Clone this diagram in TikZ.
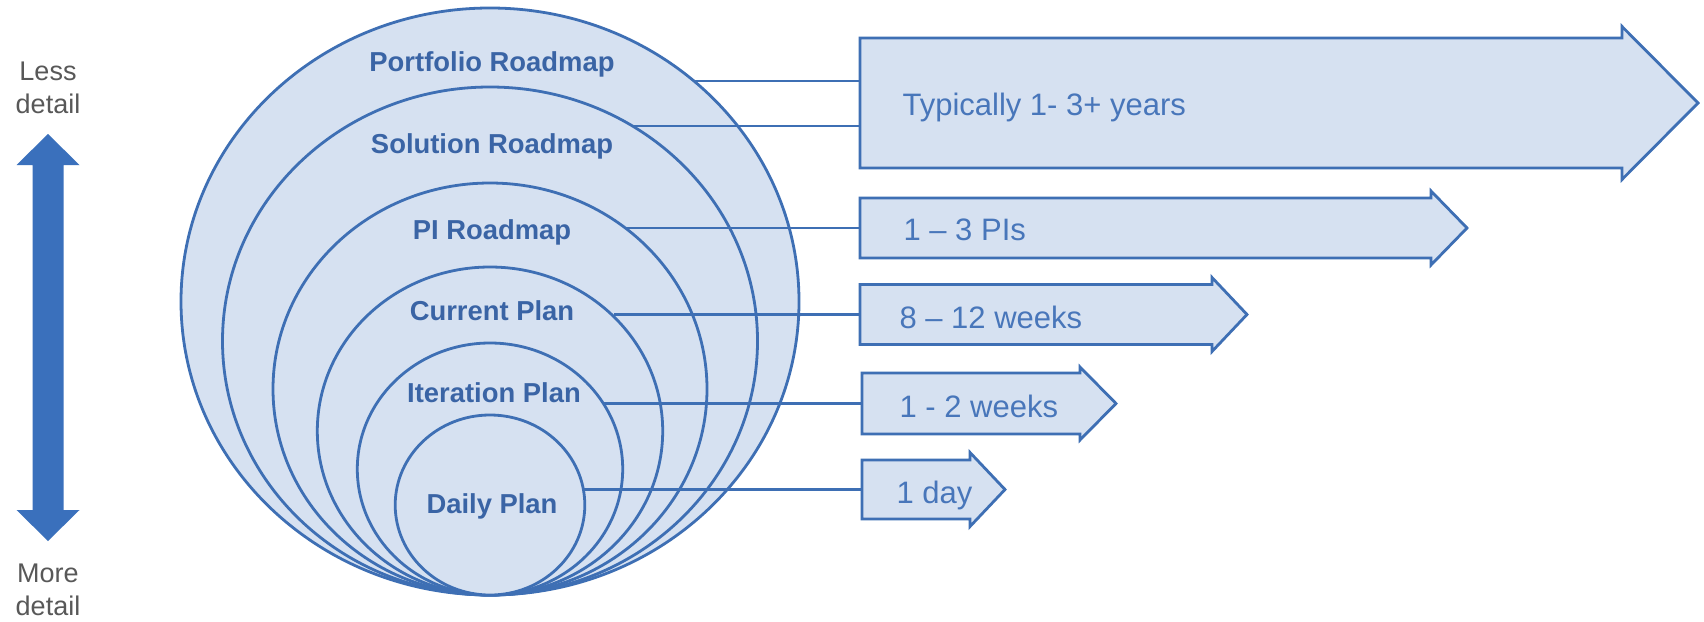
\documentclass[tikz,border=0pt]{standalone}
\usepackage{fontspec}
\setmainfont{Liberation Sans}
\usetikzlibrary{shapes.geometric}

\definecolor{ringfill}{RGB}{214,225,241}
\definecolor{ringline}{RGB}{62,111,180}
\definecolor{ringtext}{RGB}{58,100,165}
\definecolor{spantext}{RGB}{72,118,186}
\definecolor{scalearrow}{RGB}{58,112,188}
\definecolor{scaletext}{RGB}{88,88,88}

\tikzset{
  ring/.style={ellipse, draw=ringline, fill=ringfill, line width=2.8pt, inner sep=0pt},
  ringlabel/.style={anchor=base, text=ringtext, font=\fontsize{27.4}{30}\selectfont\bfseries},
  spanlabel/.style={anchor=base west, text=spantext, font=\fontsize{31}{34}\selectfont},
  spanarrow/.style={draw=ringline, fill=ringfill, line width=2.8pt, line join=miter},
  link/.style={draw=ringline, line width=2.8pt},
  scalelabel/.style={anchor=base, text=scaletext, font=\fontsize{27}{30}\selectfont}
}

% block arrow: name, tail x, centre y, shaft half height, head base x, head half height, tip x
\newcommand{\spanblock}[7]{%
  \coordinate (#1) at (#2,#3);
  \path[spanarrow] (#2,#3-#4) -- (#5,#3-#4) -- (#5,#3-#6) -- (#7,#3)
    -- (#5,#3+#6) -- (#5,#3+#4) -- (#2,#3+#4) -- cycle;
}

\begin{document}
\begin{tikzpicture}[x=1pt, y=-1pt]
\useasboundingbox[fill=white] (0,0) rectangle (1704,621);

% level-of-detail scale on the left
\coordinate (up-tip) at (48,134);
\coordinate (down-tip) at (48,541);
\fill[scalearrow] (up-tip) -- ++(31.5,31) -- ++(-16,0) |- ([xshift=15.5pt,yshift=31pt]down-tip)
  -- ++(16,0) -- (down-tip) -- ++(-31.5,-31) -- ++(16,0) |- ([xshift=-15.5pt,yshift=-31pt]up-tip)
  -- ++(-16,0) -- cycle;
\node[scalelabel] (less1) at (48,80) {Less};
\node[scalelabel] (less2) at (48,113) {detail};
\node[scalelabel] (more1) at (48,582) {More};
\node[scalelabel] (more2) at (48,615) {detail};

% nested planning horizons, all touching at the bottom
\node[ring, minimum width=618, minimum height=587] (port) at (490,301.5) {};
\node[ring, minimum width=535, minimum height=508] (sol)  at (490,341) {};
\node[ring, minimum width=434, minimum height=412] (pi)   at (490,389) {};
\node[ring, minimum width=345.4, minimum height=328] (cur) at (490,431) {};
\node[ring, minimum width=265.4, minimum height=252] (iter) at (490,469) {};
\node[ring, minimum width=189.6, minimum height=180] (day) at (490,505) {};

\node[ringlabel] (port-l) at (492,71)  {Portfolio Roadmap};
\node[ringlabel] (sol-l)  at (492,153) {Solution Roadmap};
\node[ringlabel] (pi-l)   at (492,239) {PI Roadmap};
\node[ringlabel] (cur-l)  at (492,320) {Current Plan};
\node[ringlabel] (iter-l) at (494,402) {Iteration Plan};
\node[ringlabel] (day-l)  at (492,513) {Daily Plan};

% time spans
\spanblock{big}{860}{103}{65}{1622}{76.5}{1698}
\spanblock{span-pi}{860}{228}{30}{1431}{37}{1467}
\spanblock{span-cur}{860}{314.5}{30}{1212}{37}{1247}
\spanblock{span-iter}{862}{403.5}{30.5}{1080}{36.5}{1116}
\spanblock{span-day}{862}{489.5}{29.5}{970}{37}{1005}

\node[spanlabel] (big-l)  at (899,115) {Typically 1- 3+ years};
\node[spanlabel] (pi-t)   at (900,240) {1 – 3 PIs};
\node[spanlabel] (cur-t)  at (896,328) {8 – 12 weeks};
\node[spanlabel] (iter-t) at (896,417) {1 - 2 weeks};
\node[spanlabel] (day-t)  at (893,503) {1 day};

% connectors from each ring to its span
\coordinate (port-e) at (694,81);
\coordinate (sol-e)  at (632,126);
\coordinate (pi-e)   at (625,228);
\coordinate (cur-e)  at (614,314.5);
\coordinate (iter-e) at (603,403.5);
\coordinate (day-e)  at (583,489.5);
\draw[link] (port-e) -- (port-e -| big);
\draw[link] (sol-e) -- (sol-e -| big);
\draw[link] (pi-e) -- (span-pi);
\draw[link] (cur-e) -- (span-cur);
\draw[link] (iter-e) -- (span-iter);
\draw[link] (day-e) -- (span-day);
\end{tikzpicture}
\end{document}
